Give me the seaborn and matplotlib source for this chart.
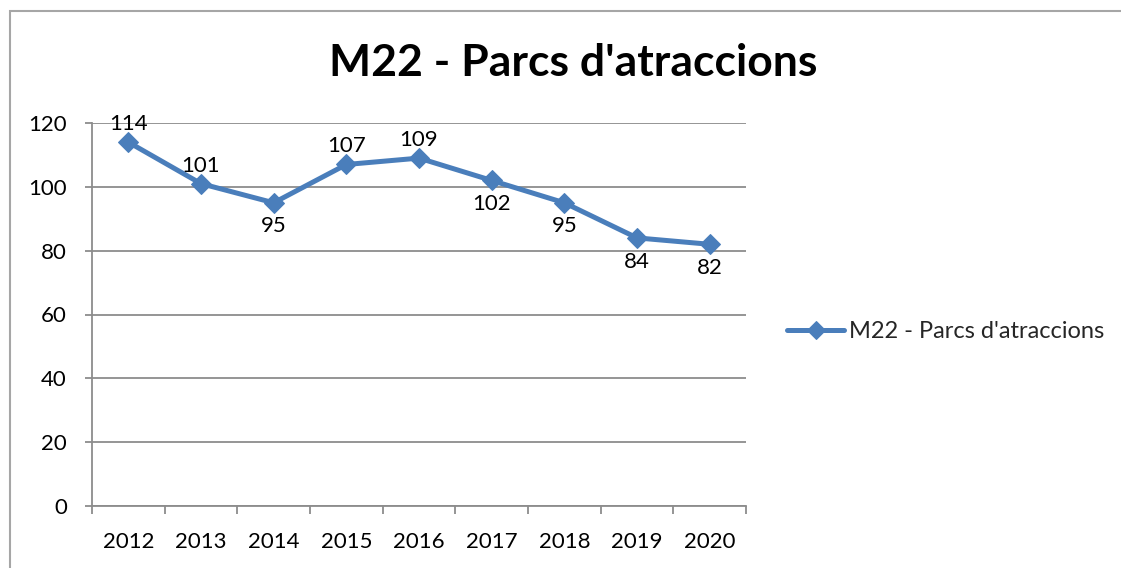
import matplotlib
matplotlib.use("Agg")
import matplotlib.pyplot as plt
import seaborn as sns
import numpy as np
import pandas as pd
from matplotlib.patches import Rectangle
from matplotlib.ticker import FixedLocator, NullFormatter

years = ["2012", "2013", "2014", "2015", "2016", "2017", "2018", "2019", "2020"]
values = [114, 101, 95, 107, 109, 102, 95, 84, 82]
label_pos = ["above", "above", "below", "above", "above", "below", "below", "below", "below"]
series_name = "M22 - Parcs d'atraccions"
title = "M22 - Parcs d'atraccions"
yticks = [0, 20, 40, 60, 80, 100, 120]

sns.set_theme(style="white")
plt.rcParams['font.family'] = ['Lato', 'DejaVu Sans']

W, H = 1121, 568
fig = plt.figure(figsize=(W / 100, H / 100), dpi=100)
ax = fig.add_axes([92 / W, (H - 506) / H, (746 - 92) / W, (506 - 123) / H])

df = pd.DataFrame({"pos": np.arange(len(years)), "value": values, "series": series_name})
color = "#4A7EBB"
sns.lineplot(data=df, x="pos", y="value", ax=ax, color=color, linewidth=3.6,
             marker="D", markersize=10, markeredgecolor=color, label=series_name)

ax.set_xlim(-0.5, len(years) - 0.5)
ax.set_ylim(0, 120)
ax.set_yticks(yticks)
ax.set_yticklabels([str(t) for t in yticks])
ax.yaxis.grid(True, color="#8c8c8c", linewidth=1.3)
ax.xaxis.grid(False)

# x ticks at category boundaries, labels at centers
ax.xaxis.set_major_locator(FixedLocator(np.arange(-0.5, len(years), 1.0)))
ax.xaxis.set_major_formatter(NullFormatter())
ax.xaxis.set_minor_locator(FixedLocator(np.arange(len(years))))
ax.set_xticklabels(years, minor=True)
ax.tick_params(axis="x", which="major", length=6, width=1.3, color="#8c8c8c", direction="out", bottom=True)
ax.tick_params(axis="x", which="minor", length=0, pad=18.5, labelsize=16, labelcolor="black")
ax.tick_params(axis="y", which="major", length=5, width=1.3, color="#8c8c8c", direction="out",
               left=True, pad=13, labelsize=16, labelcolor="black")
ax.set_xlabel("")
ax.set_ylabel("")

for s in ["top", "right"]:
    ax.spines[s].set_visible(False)
for s in ["left", "bottom"]:
    ax.spines[s].set_color("#8c8c8c")
    ax.spines[s].set_linewidth(1.3)

for i, (v, p) in enumerate(zip(values, label_pos)):
    dy = 13 if p == "above" else -17
    ax.annotate(str(v), (i, v), xytext=(0, dy), textcoords="offset points",
                ha="center", va="center", fontsize=16, color="black")

fig.text(573 / W, 1 - 63 / H, title, ha="center", va="center", fontsize=32, fontweight="bold", color="black")

leg = ax.legend(loc="center left", bbox_to_anchor=(778 / W, 1 - 332 / H), bbox_transform=fig.transFigure,
                frameon=False, fontsize=17, handlelength=2.4, handletextpad=0.2, borderaxespad=0)
for h in leg.legend_handles:
    h.set_markersize(9)

fig.patches.append(Rectangle((10 / W, -0.2), 2, 1.2 - 11 / H, transform=fig.transFigure,
                             fill=False, edgecolor="#a6a6a6", linewidth=1.5, figure=fig))

fig.savefig("out.png", dpi=100, facecolor="white")
